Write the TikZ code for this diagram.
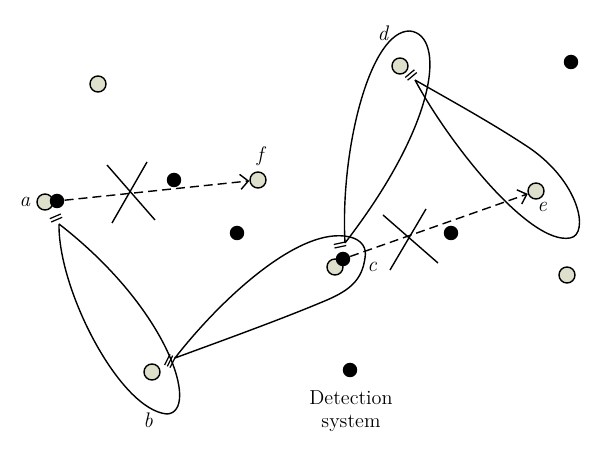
\documentclass[tikz,border=0pt]{standalone}
\usetikzlibrary{arrows.meta}
\definecolor{nodegray}{RGB}{222,224,204}
\tikzset{
  gnode/.style={circle,draw,line width=0.8pt,fill=nodegray,minimum size=0.32cm,inner sep=0pt},
  bnode/.style={circle,fill=black,minimum size=0.29cm,inner sep=0pt},
  lbl/.style={font=\fontsize{12}{14}\selectfont\itshape},
  lobe/.style={line width=0.8pt},
  dasharrow/.style={line width=0.8pt,dash pattern=on 0.18cm off 0.1cm,-{Straight Barb[length=0.16cm,width=0.3cm,line width=0.8pt]}},
  crossline/.style={line width=0.8pt},
  dbl/.pic={\draw[line width=0.7pt] (-6,-1.8)--(6,-1.8) (-6,1.8)--(6,1.8);},
  tpl/.pic={\draw[line width=0.7pt] (-6,-3)--(6,-3) (-6,0)--(6,0) (-6,3)--(6,3);}
}
\begin{document}
\begin{tikzpicture}[x=0.02cm,y=-0.02cm]
\useasboundingbox (0,0) rectangle (600,456);

% lobes
\draw[lobe] (59,224) .. controls (58,290) and (120,410) .. (167,414)
  .. controls (200,412) and (170,310) .. (59,224);
\draw[lobe] (175,358) .. controls (220,300) and (300,225) .. (350,237)
  .. controls (362,240) and (367,248) .. (365,258)
  .. controls (362,280) and (350,290) .. (327,300)
  .. controls (280,320) and (210,345) .. (175,358);
\draw[lobe] (345,243) .. controls (340,150) and (370,30) .. (410,31)
  .. controls (445,35) and (440,120) .. (345,243);
\draw[lobe] (415,80) .. controls (450,145) and (530,245) .. (570,238)
  .. controls (590,235) and (580,180) .. (525,145)
  .. controls (490,122) and (450,100) .. (415,80);

% double marks
\pic[rotate=23] at (56,218) {dbl};
\pic[rotate=63] at (170,361) {tpl};
\pic[rotate=12] at (340,245) {dbl};
\pic[rotate=40] at (411,75) {dbl};

% crosses
\draw[crossline] (107,165) -- (155,220) (147,162) -- (112,223);
\draw[crossline] (383,215) -- (438,263) (426,209) -- (390,270);

% nodes
\node[gnode] (g1) at (98,84) {};
\node[gnode] (a) at (45,202) {};
\node[bnode] (ba) at (57,201) {};
\node[gnode] (f) at (258,180) {};
\node[gnode] (d) at (400,66) {};
\node[gnode] (e) at (536,191) {};
\node[gnode] (c) at (335,267) {};
\node[bnode] (bc) at (343,259) {};
\node[gnode] (b) at (152,372) {};
\node[gnode] (g2) at (567,275) {};
\node[bnode] (k1) at (571,62) {};
\node[bnode] (k2) at (174,180) {};
\node[bnode] (k3) at (237,233) {};
\node[bnode] (k4) at (451,233) {};
\node[bnode] (det) at (350,370) {};

% dashed arrows
\draw[dasharrow] (ba) -- (f);
\draw[dasharrow] (bc) -- (e);

% labels
\node[lbl] (la) at (25,202) {a};
\node[lbl] (lf) at (260,156) {f};
\node[lbl] (ld) at (383,33) {d};
\node[lbl] (le) at (542,207) {e};
\node[lbl] (lc) at (372,267) {c};
\node[lbl] (lb) at (148,420) {b};
\node[font=\fontsize{11.5}{13}\selectfont,align=center] (lt) at (351,411) {Detection\\system};
\end{tikzpicture}
\end{document}
